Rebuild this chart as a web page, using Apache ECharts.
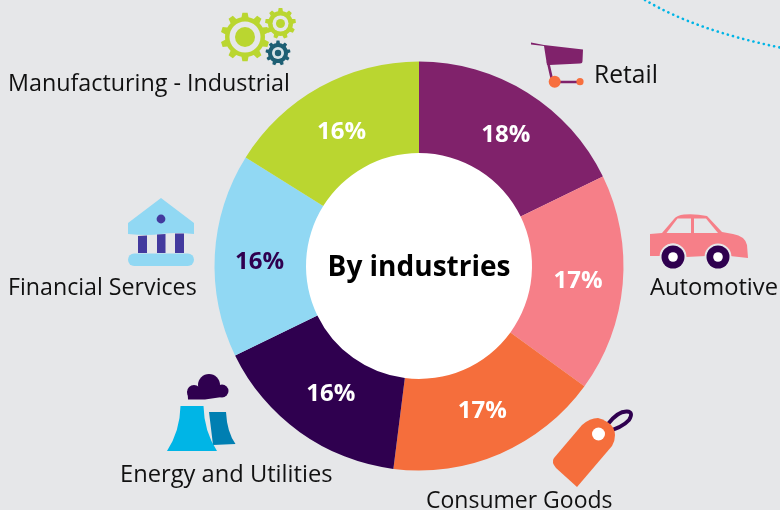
<!DOCTYPE html>
<html><head><meta charset="utf-8">
<style>html,body{margin:0;padding:0;background:#E6E7E9}#c{width:780px;height:510px}</style>
<script src="https://cdn.jsdelivr.net/npm/echarts@6/dist/echarts.min.js"></script>
</head><body><div id="c"></div>
<script>
const categories = ['Retail','Automotive','Consumer Goods','Energy and Utilities','Financial Services','Manufacturing - Industrial'];
const shares = [17.8,17.2,17.0,15.8,16.1,16.1];
const sliceColors = ['#80226B','#F67F88','#F56E3C','#2F004F','#91D8F3','#BAD630'];
const labelColors = ['#fff','#fff','#fff','#fff','#2F004F','#fff'];
const labelOffsets = [[1,6],[-2,1],[-1,-3],[6,-3],[2,5],[1,8]];
const centerTitle = 'By industries';
const nameAnchors = [[594,76],[650,288],[426,501],[120,475],[8,288],[8,84]];
const nameSizes = [24.6,23.7,23,23.7,23.2,23.3];

const FONT = '"Open Sans","Noto Sans",sans-serif';
const BG = '#E6E7E9';
const INK = '#111';

function gear(cx,cy,ro,ri,teeth){
  let d='';
  const step=Math.PI*2/teeth;
  for(let i=0;i<teeth;i++){
    const a=i*step-Math.PI/2;
    const pts=[[ri,a-step*0.5],[ri,a-step*0.28],[ro,a-step*0.17],[ro,a+step*0.17],[ri,a+step*0.28]];
    pts.forEach(([r,t],j)=>{
      d+=(i===0&&j===0?'M':'L')+(cx+r*Math.cos(t)).toFixed(2)+' '+(cy+r*Math.sin(t)).toFixed(2);
    });
  }
  return d+'Z';
}
let shapeId=0;
function shapeType(d){
  const name='iconShape'+(shapeId++);
  echarts.graphic.registerShape(name,echarts.graphic.extendPath(d,{}));
  return name;
}
const path=(d,fill)=>({type:shapeType(d),shape:{},style:{fill:fill}});
const stroke=(d,col,w,extra)=>({type:shapeType(d),shape:{},style:Object.assign({fill:'none',stroke:col,lineWidth:w,lineCap:'round'},extra||{})});
const circ=(cx,cy,r,fill)=>({type:'circle',shape:{cx,cy,r},style:{fill}});

const icons=[
  // gears
  path(gear(245,37,24.5,20,10),'#BAD630'),circ(245,37,15.5,BG),circ(245,37,10,'#BAD630'),
  path(gear(280.5,23.5,15.5,12.5,9),'#BAD630'),circ(280.5,23.5,8,BG),circ(280.5,23.5,4.5,'#BAD630'),
  path(gear(278,53,12.5,10,9),'#1D5F74'),circ(278,53,6,'#D7E4E8'),circ(278,53,3.2,'#1D5F74'),
  // cart
  path('M531 42.5L544 45L583 49.5L582.5 61Q582.5 63.5 580 63.5L549.5 65L547 65L544 46L531 44.5Z','#80226B'),
  stroke('M548 62L552.5 82L580 82','#80226B',2.6),
  circ(554.7,81.7,6,'#F76F3E'),circ(580,81.7,3.6,'#F76F3E'),
  // car
  path('M650 234L662 233L674 219Q677 215 684 214.5Q695 213.5 707 216L722 232L733 234Q745 236 747 245L748 258L730 256A12 12 0 0 0 706 256L686 257A13 13 0 0 0 660 256L650 256Z','#F67F88'),
  path('M666.5 233L677.5 218.5L691 218.5L691 233Z',BG),
  path('M694 218.5L706 218.5L718 233L694 233Z',BG),
  circ(673,257,13.5,BG),circ(718,257,13.5,BG),
  circ(673,257,11.5,'#2F004F'),circ(718,257,11.5,'#2F004F'),
  circ(673,257,4.8,'#fff'),circ(718,257,4.8,'#fff'),
  // tag
  stroke('M605 432Q622 428 629 420Q634 412 627 411.5Q618 411 608 424','#2F004F',3.8),
  path('M582 425Q590 418 598 418Q615 423 615 435Q615 441 612 446L577 487L556 468Q551 462 554 458Z','#F56E3C'),
  circ(598.5,434,6.5,'#fff'),
  // cooling towers and cloud
  path('M209 412L226 412Q227 432 235.5 444L213 445Z','#007FB2'),
  path('M180.5 406L203.5 406Q204 431 217 451L167 451Q180 431 180.5 406Z','#00B5E6'),
  circ(194,392,7,'#2F004F'),circ(209,385,11,'#2F004F'),circ(222,391,6.5,'#2F004F'),
  path('M187.5 391L226 391L222 397L205 399.5L188 399.5Z','#2F004F'),
  // bank
  path('M161 198L194 223L194 234Q175 232 161 234Q148 236 128 234L128 223Z','#91D8F3'),
  circ(161,219,4.4,'#433A9E'),
  path('M138 236L147 235.5L147 253L138 253Z','#433A9E'),
  path('M157 234.5L165.5 234L165.5 253L157 253Z','#433A9E'),
  path('M175 233.5L184 233.5L184 253L175 253Z','#433A9E'),
  {type:'rect',shape:{x:128,y:253.5,width:66,height:12.5,r:6.2},style:{fill:'#91D8F3'}},
  // dotted arc
  stroke('M645 0Q695 30 780 47.5','#00B5E6',2.6,{lineDash:[0.1,5.2]})
];

const names=categories.map((t,i)=>({type:'text',x:nameAnchors[i][0],y:nameAnchors[i][1],
  style:{text:t,fill:INK,font:nameSizes[i]+'px '+FONT,textAlign:'left',textVerticalAlign:'middle'}}));

const chart=echarts.init(document.getElementById('c'),null,{renderer:'canvas'});
chart.setOption({
  backgroundColor:BG,animation:false,
  graphic:{elements:[
    {type:'circle',shape:{cx:419,cy:266,r:114},style:{fill:'#fff'},z:0},
    {type:'text',x:419,y:268,z:5,style:{text:centerTitle,fill:'#000',font:'bold 28px '+FONT,textAlign:'center',textVerticalAlign:'middle'}},
    ...icons.map(e=>Object.assign(e,{z:5})),
    ...names.map(e=>Object.assign(e,{z:5}))
  ]},
  series:[{
    type:'pie',center:[419,266],radius:[113,204.5],startAngle:90,clockwise:true,
    silent:true,
    label:{position:'inside',fontFamily:FONT,fontWeight:'bold',fontSize:24,formatter:p=>Math.round(p.value)+'%'},
    labelLine:{show:false},
    data:categories.map((name,i)=>({name,value:shares[i],itemStyle:{color:sliceColors[i]},label:{color:labelColors[i],offset:labelOffsets[i]}}))
  }]
});
</script></body></html>
